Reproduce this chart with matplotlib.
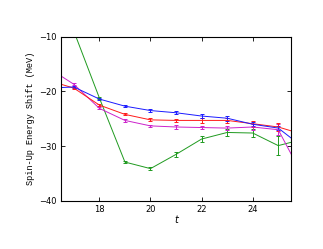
import numpy as np
import matplotlib
matplotlib.use("Agg")
import matplotlib.pyplot as plt

# time slices
t = [16, 17, 18, 19, 20, 21, 22, 23, 24, 25, 26]

blue = [-19.4, -19.2, -21.4, -22.7, -23.5, -23.9, -24.5, -24.9, -26.0, -26.7, -30.3]
blue_err = [0.2, 0.2, 0.2, 0.2, 0.25, 0.3, 0.35, 0.45, 0.4, 0.4, 0.6]

red = [-18.0, -19.4, -22.5, -24.2, -25.2, -25.3, -25.3, -25.3, -25.9, -26.5, -27.9]
red_err = [0.2, 0.2, 0.2, 0.2, 0.25, 0.3, 0.4, 0.45, 0.55, 0.7, 0.9]

magenta = [-15.7, -18.7, -23.1, -25.3, -26.3, -26.5, -26.6, -26.7, -26.5, -27.0, -35.8]
magenta_err = [0.2, 0.2, 0.2, 0.2, 0.25, 0.3, 0.35, 0.4, 0.5, 1.0, 1.2]

green = [3.2, -9.0, -21.2, -32.9, -34.1, -31.5, -28.7, -27.5, -27.6, -29.9, -28.7]
green_err = [0.2, 0.2, 0.2, 0.2, 0.3, 0.4, 0.5, 0.6, 0.8, 1.7, 1.8]

fig = plt.figure(figsize=(3.23, 2.49), dpi=100)
ax = fig.add_axes([0.189, 0.193, 0.712, 0.660])

series = [
    (green, green_err, "#1f9a1f"),
    (magenta, magenta_err, "#cc22cc"),
    (red, red_err, "#ff1a1a"),
    (blue, blue_err, "#1a1aff"),
]
for y, e, c in series:
    ax.errorbar(t, y, yerr=e, color=c, lw=0.7, elinewidth=0.7,
                capsize=1.2, capthick=0.7)

ax.set_xlim(16.5, 25.5)
ax.set_ylim(-40, -10)
ax.set_xticks([18, 20, 22, 24])
ax.set_yticks([-10, -20, -30, -40])
ax.tick_params(direction="in", length=3, width=0.6, labelsize=6,
               top=True, right=True, pad=3)
for s in ax.spines.values():
    s.set_linewidth(0.8)
ax.set_xlabel("t", style="italic", fontsize=7, labelpad=1)
ax.set_ylabel("Spin-Up Energy Shift (MeV)", family="Liberation Mono",
              fontsize=6.2, labelpad=3)

fig.savefig("out.png", dpi=100)
